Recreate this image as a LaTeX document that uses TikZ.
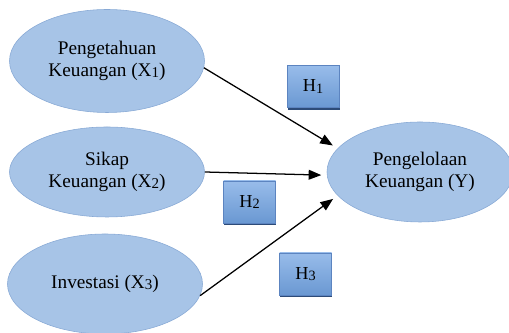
\documentclass[tikz,border=0pt]{standalone}
\usepackage{fontspec}
\setmainfont{Liberation Serif}
\usetikzlibrary{shapes.geometric,arrows.meta,shadows}

\definecolor{varfill}{RGB}{167,196,231}
\definecolor{varline}{RGB}{136,169,213}
\definecolor{hyptop}{RGB}{152,188,234}
\definecolor{hypbot}{RGB}{106,152,210}
\definecolor{hypline}{RGB}{92,132,192}
\definecolor{hypshadow}{RGB}{45,75,120}

\newcommand{\idx}[1]{\raisebox{-0.15ex}{\scalebox{0.78}{#1}}}

\begin{document}
\begin{tikzpicture}[>={Triangle[length=9pt,width=7pt]},
    var/.style={draw=varline, fill=varfill, ellipse, inner sep=0pt, align=center,
        font=\fontsize{13.7}{15.6}\selectfont},
    hyp/.style={draw=hypline, top color=hyptop, bottom color=hypbot, inner sep=0pt,
        minimum width=1.3cm, minimum height=1.05cm, font=\fontsize{13}{15}\selectfont,
        drop shadow={shadow xshift=0.4pt, shadow yshift=-1.6pt, fill=hypshadow, opacity=1}},
    edge/.style={->, line width=0.9pt, shorten >=4pt}]
                \useasboundingbox (0,0) rectangle (12.725,8.325);

                % Nodes
                \node[var, minimum width=4.875cm, minimum height=2.575cm] at (2.675, 6.8) (x1) {Pengetahuan\\Keuangan (X\idx{1})};
                \node[var, minimum width=4.875cm, minimum height=2.25cm] at (2.675, 4.025) (x2) {Sikap\\Keuangan (X\idx{2})};
                \node[var, minimum width=4.875cm, minimum height=2.5cm] at (2.625, 1.225) (x3) {Investasi (X\idx{3})};
                \node[var, minimum width=4.65cm, minimum height=2.5cm] at (10.5, 4.025) (y) {Pengelolaan\\Keuangan (Y)};

                \node[hyp] at (7.825, 6.1625) (h1) {H\idx{1}};
                \node[hyp] at (6.2375, 3.275) (h2) {H\idx{2}};
                \node[hyp] at (7.6375, 1.475) (h3) {H\idx{3}};

                % Edges
                \draw[edge] (x1.-4) -- (y.164);

                \draw[edge] (x2.0) -- (y.182);

                \draw[edge] (x3.-7) -- (y.196);
            \end{tikzpicture}
\end{document}
